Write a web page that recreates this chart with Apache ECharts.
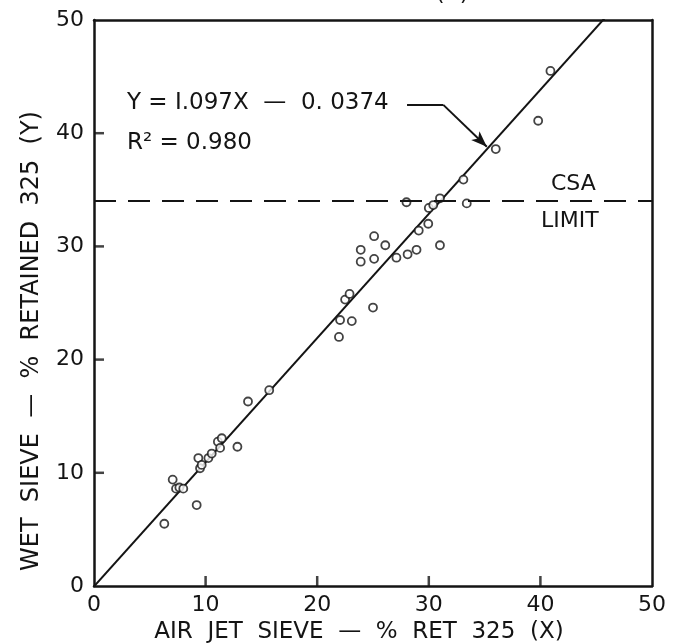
<!DOCTYPE html>
<html>
<head>
<meta charset="utf-8">
<script src="https://cdn.jsdelivr.net/npm/echarts@6/dist/echarts.min.js"></script>
<style>
  html, body { margin: 0; padding: 0; background: #fff; }
  #chart { width: 680px; height: 644px; }
</style>
</head>
<body>
<div id="chart"></div>
<script>
// air jet sieve % retained (x) vs wet sieve % retained (y)
const airJet = [6.3, 9.2, 7.05, 7.35, 7.65, 8.0, 9.35, 9.5, 9.65, 10.25, 10.55, 11.1, 11.45, 11.3, 12.85, 13.8, 15.7,
  21.95, 22.05, 23.1, 25.0, 22.5, 22.9, 23.9, 23.9, 25.1, 26.1, 25.1, 27.1, 28.1, 28.9, 31.0, 29.1, 29.95,
  28.0, 30.0, 30.4, 31.0, 33.4, 33.1, 36.0, 39.8, 40.9];
const wetSieve = [5.5, 7.15, 9.4, 8.6, 8.7, 8.6, 11.3, 10.4, 10.7, 11.3, 11.7, 12.75, 13.05, 12.2, 12.3, 16.3, 17.3,
  22.0, 23.5, 23.4, 24.6, 25.3, 25.8, 28.65, 29.7, 30.9, 30.1, 28.9, 29.0, 29.3, 29.7, 30.1, 31.4, 32.0,
  33.9, 33.4, 33.65, 34.25, 33.8, 35.9, 38.6, 41.1, 45.5];

// fitted line Y = 1.097X - 0.0374
const slope = 1.097;
const intercept = -0.0374;
const fitX = [0, 46];
const csaLimit = 34;

const innerTicks = [10, 20, 30, 40];
const arrowPath = [[28.05, 42.5], [31.3, 42.5], [35.2, 38.8]];

const points = airJet.map((x, i) => [x, wetSieve[i]]);
const fitLine = fitX.map(x => [x, slope * x + intercept]);

const ink = '#141414';
const font = 'DejaVu Sans';

const chart = echarts.init(document.getElementById('chart'), null, { renderer: 'canvas' });

const axisCommon = {
  type: 'value',
  min: 0,
  max: 50,
  interval: 10,
  nameLocation: 'middle',
  axisLine: { show: true, onZero: false, lineStyle: { color: ink, width: 2.5 } },
  axisTick: { show: false },
  axisLabel: { color: ink, fontFamily: font, fontSize: 22 },
  splitLine: { show: false }
};

// plain frame axes for the top and right edges
const frameAxis = {
  type: 'value',
  min: 0,
  max: 50,
  interval: 10,
  axisLine: { show: true, onZero: false, lineStyle: { color: ink, width: 2.5 } },
  axisTick: { show: false },
  axisLabel: { show: false },
  splitLine: { show: false }
};

const solid = { color: ink, width: 2, type: 'solid' };

// inward tick marks, drawn as small bars sitting on the bottom and left edges
const tickMark = (data, size, offset) => ({
  type: 'scatter',
  data: data,
  symbol: 'rect',
  symbolSize: size,
  symbolOffset: offset,
  clip: false,
  silent: true,
  itemStyle: { color: ink },
  z: 4
});

chart.setOption({
  animation: false,
  backgroundColor: '#fff',
  grid: { left: 94, right: 28, top: 20, bottom: 58, outerBoundsMode: 'none' },
  xAxis: [
    Object.assign({}, axisCommon, {
      position: 'bottom',
      name: 'AIR  JET  SIEVE  —  %  RET  325  (X)',
      nameGap: 32,
      nameTextStyle: { color: ink, fontFamily: font, fontSize: 23, padding: [0, 28, 0, 0] },
      axisLabel: Object.assign({}, axisCommon.axisLabel, { margin: 8 })
    }),
    Object.assign({}, frameAxis, { position: 'top' })
  ],
  yAxis: [
    Object.assign({}, axisCommon, {
      position: 'left',
      name: 'WET  SIEVE  —  %  RETAINED  325  (Y)',
      nameGap: 50,
      nameTextStyle: { color: ink, fontFamily: font, fontSize: 24, padding: [0, 76, 0, 0] },
      axisLabel: Object.assign({}, axisCommon.axisLabel, { margin: 10 })
    }),
    Object.assign({}, frameAxis, { position: 'right' })
  ],
  series: [
    {
      type: 'line',
      data: fitLine,
      symbol: 'none',
      clip: true,
      lineStyle: { color: ink, width: 2 },
      z: 2,
      markLine: {
        silent: true,
        symbol: 'none',
        label: { show: false },
        data: [
          [
            { coord: arrowPath[0], symbol: 'none', lineStyle: solid },
            { coord: arrowPath[1], symbol: 'none' }
          ],
          [
            { coord: arrowPath[1], symbol: 'none', lineStyle: solid },
            { coord: arrowPath[2], symbol: 'arrow', symbolSize: [9, 16] }
          ],
          {
            yAxis: csaLimit,
            lineStyle: { color: ink, width: 2, type: [22, 12] }
          }
        ]
      }
    },
    {
      type: 'scatter',
      data: points,
      symbol: 'circle',
      symbolSize: 8,
      itemStyle: { color: '#fff', borderColor: ink, borderWidth: 1.8 },
      z: 3
    },
    tickMark(innerTicks.map(v => [v, 0]), [2.5, 10], [0, -5]),
    tickMark(innerTicks.map(v => [0, v]), [10, 2.5], [5, 0])
  ],
  graphic: [
    { type: 'text', left: 250, top: -17, style: { text: 'CARBON  —  %   (X)', fill: ink, font: '22px "DejaVu Sans"' } },
    { type: 'text', left: 127, top: 92, style: { text: 'Y = I.097X  —  0. 0374', fill: ink, font: '23px "DejaVu Sans"' } },
    { type: 'text', left: 127, top: 132, style: { text: 'R² = 0.980', fill: ink, font: '23px "DejaVu Sans"' } },
    { type: 'text', left: 551, top: 173, style: { text: 'CSA', fill: ink, font: '22px "DejaVu Sans"' } },
    { type: 'text', left: 541, top: 210, style: { text: 'LIMIT', fill: ink, font: '22px "DejaVu Sans"' } }
  ]
});
</script>
</body>
</html>
